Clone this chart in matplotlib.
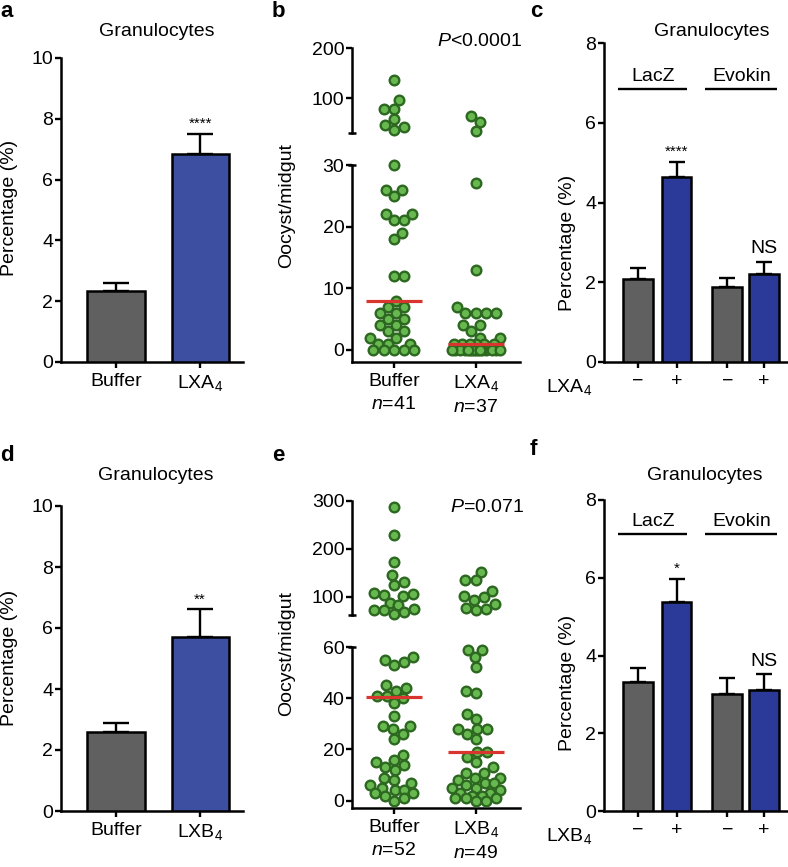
import numpy as np
import matplotlib
matplotlib.use("Agg")
import matplotlib.pyplot as plt

plt.rcParams['font.family'] = ['Liberation Sans', 'DejaVu Sans']
plt.rcParams['mathtext.fontset'] = 'custom'
plt.rcParams['mathtext.rm'] = 'Liberation Sans'
plt.rcParams['mathtext.it'] = 'Liberation Sans:italic'
plt.rcParams['axes.linewidth'] = 1.8

# ---- data ----
# panel a / d : granulocyte percentage
a_labels = ['Buffer', 'LXA$_4$']
a_means = [2.35, 6.85]
a_errs = [0.25, 0.65]
d_labels = ['Buffer', 'LXB$_4$']
d_means = [2.58, 5.7]
d_errs = [0.32, 0.92]

# panel c / f : LacZ vs Evokin, -/+ lipoxin
cf_ticklabels = ['\u2212', '+', '\u2212', '+']
c_means = [2.08, 4.65, 1.88, 2.22]
c_errs = [0.28, 0.37, 0.22, 0.30]
f_means = [3.32, 5.38, 3.02, 3.12]
f_errs = [0.35, 0.60, 0.40, 0.40]

# panel b : oocysts per midgut
b_buffer = [137, 97, 79, 79, 58, 46, 43, 37,
            30, 26, 26, 25, 22, 22, 21, 21, 19, 18, 12, 12, 8,
            7, 7, 6, 6, 5, 5, 4, 4, 3, 3, 2, 2, 1, 1, 1, 0, 0, 0, 0, 0]
b_lxa4 = [65, 53, 34,
          27, 13, 7, 6, 6, 6, 6, 4, 4, 3, 2, 2, 1, 1, 1, 1, 1, 1,
          0, 0, 0, 0, 0, 0, 0, 0, 0, 0, 0, 0, 0, 0, 0, 0]
b_labels = ['Buffer\n$n$=41', 'LXA$_4$\n$n$=37']

# panel e
e_buffer = [287, 228, 173, 145, 131, 124, 108, 106, 103, 101, 86, 82, 75, 73, 72, 69, 65,
            56, 55, 54, 53, 45, 44, 43, 41, 41, 40, 38, 33, 29, 29, 28, 26, 24,
            18, 16, 15, 14, 13, 12, 9, 8, 7, 6, 5, 4, 4, 3, 3, 2, 1, 0]
e_lxb4 = [152, 134, 134, 113, 101, 100, 94, 85, 77, 75, 73,
          59, 59, 56, 52, 43, 42, 34, 32, 28, 28, 28, 26, 24, 19, 19,
          17, 15, 13, 11, 11, 9, 9, 8, 7, 7, 6, 5, 5, 4, 3, 3, 2, 2, 1, 1, 1, 0, 0]
e_labels = ['Buffer\n$n$=52', 'LXB$_4$\n$n$=49']

GREY = '#606060'
BLUE_A = '#3c4fa1'
BLUE_C = '#2b3a98'
PT_FACE = '#66b84f'
PT_EDGE = '#2d6821'
RED = '#d8352e'

W, H = 788, 867
fig = plt.figure(figsize=(W / 100, H / 100), dpi=100)


def add_ax(left, right, top, bottom):
    return fig.add_axes([left / W, 1 - bottom / H, (right - left) / W, (bottom - top) / H])


def ftext(x, y, s, **kw):
    fig.text(x / W, 1 - y / H, s, **kw)


def style_ax(ax):
    for s in ['top', 'right']:
        ax.spines[s].set_visible(False)
    ax.tick_params(axis='y', length=4, width=1.7, pad=1.5, labelsize=14)
    ax.tick_params(axis='x', length=4, width=1.7, pad=4, labelsize=14)


def bar_panel(ax, xpos, means, errs, colors, ylim, yticks, xlim, width, capsize):
    ax.errorbar(xpos, means, yerr=[np.zeros(len(errs)), errs], fmt='none',
                ecolor='black', elinewidth=1.7, capsize=capsize, capthick=1.7, zorder=2)
    ax.bar(xpos, means, width, color=colors, edgecolor='black', linewidth=1.8, zorder=3)
    ax.set_ylim(*ylim)
    ax.set_xlim(*xlim)
    ax.set_yticks(yticks)
    ax.set_xticks(xpos)
    style_ax(ax)


def swarm_offsets(vals, px_per_unit, sep=10.3, maxw=24.0):
    ys = np.asarray(vals, float) * px_per_unit
    order = np.argsort(ys, kind='stable')
    xs = np.zeros(len(ys))
    placed = []
    for i in order:
        y = ys[i]
        near = [(xj, yj) for xj, yj in placed if abs(yj - y) < sep]
        cands = [0.0]
        for xj, yj in near:
            dx = np.sqrt(sep ** 2 - (y - yj) ** 2)
            cands += [xj - dx, xj + dx]
        cands = [c for c in cands if abs(c) <= maxw]
        ok = [c for c in cands
              if all((c - xj) ** 2 + (y - yj) ** 2 >= sep ** 2 - 1e-6 for xj, yj in near)]
        sgn = 1.0 if sum(p[0] for p in placed) <= 0 else -1.0
        if ok:
            x = min(ok, key=lambda c: (round(abs(c), 3), -c * sgn))
        else:
            grid = np.linspace(-maxw, maxw, 25)
            x = max(grid, key=lambda c: (min((c - xj) ** 2 + (y - yj) ** 2 for xj, yj in near),
                                         -abs(c)))
        xs[i] = x
        placed.append((x, y))
    return xs


def scatter_panel(ax_top, ax_low, groups, labels, cut, top_lim, low_lim, top_ticks, low_ticks,
                  top_px, low_px, x_px_unit):
    for k, vals in enumerate(groups):
        vals = np.asarray(vals, float)
        hi = vals[vals >= cut]
        lo = vals[vals < cut]
        for ax, v, lim, hpx in [(ax_top, hi, top_lim, top_px), (ax_low, lo, low_lim, low_px)]:
            ppu = hpx / (lim[1] - lim[0])
            offs = swarm_offsets(v, ppu) / x_px_unit
            ax.scatter(k + offs, v, s=48, color=PT_FACE, edgecolor=PT_EDGE,
                       linewidth=1.7, zorder=3, clip_on=False)
        med = np.median(vals)
        target = ax_low if med < cut else ax_top
        target.hlines(med, k - 0.34, k + 0.34, color=RED, lw=2.3, zorder=4)

    for ax in (ax_top, ax_low):
        ax.set_xlim(-0.51, 1.54)
        style_ax(ax)
    ax_top.set_ylim(*top_lim)
    ax_top.set_yticks(top_ticks)
    ax_top.spines['bottom'].set_visible(False)
    ax_top.set_xticks([])
    ax_top.plot([0], [0], marker='_', ms=6, mew=1.8, color='black',
                transform=ax_top.transAxes, clip_on=False)
    ax_low.set_ylim(*low_lim)
    ax_low.set_yticks(low_ticks)
    ax_low.set_xticks([0, 1])
    ax_low.set_xticklabels(labels, linespacing=1.45)
    ax_low.plot([0], [1], marker='_', ms=6, mew=1.8, color='black',
                transform=ax_low.transAxes, clip_on=False)


# ---- panel a ----
ax_a = add_ax(61, 243, 58, 362)
bar_panel(ax_a, [0, 1], a_means, a_errs, [GREY, BLUE_A], (0, 10), range(0, 11, 2),
          (-0.655, 1.51), 0.68, 9.5)
ax_a.set_xticklabels(a_labels)
ax_a.annotate('****', (1, a_means[1] + a_errs[1]), xytext=(0, 2), textcoords='offset points',
              ha='center', va='bottom', fontsize=11)

# ---- panel d ----
ax_d = add_ax(61, 243, 506, 811)
bar_panel(ax_d, [0, 1], d_means, d_errs, [GREY, BLUE_A], (0, 10), range(0, 11, 2),
          (-0.655, 1.51), 0.68, 9.5)
ax_d.set_xticklabels(d_labels)
ax_d.annotate('**', (1, d_means[1] + d_errs[1]), xytext=(0, 2), textcoords='offset points',
              ha='center', va='bottom', fontsize=11)

# ---- panels c / f ----
cf_x = [0, 1, 2.31, 3.26]
for ax_box, means, errs, lab, lab_y, stars, group_y in [
        ((604, 787, 43.3, 362), c_means, c_errs, 'LXA$_4$', 387, '****', 6.85),
        ((604, 787, 500, 811), f_means, f_errs, 'LXB$_4$', 836, '*', 7.12)]:
    ax = add_ax(*ax_box)
    bar_panel(ax, cf_x, means, errs, [GREY, BLUE_C, GREY, BLUE_C], (0, 8), range(0, 9, 2),
              (-0.87, 3.85), 0.77, 5.5)
    ax.set_xticklabels(cf_ticklabels)
    ax.annotate(stars, (cf_x[1], means[1] + errs[1]), xytext=(0, 2), textcoords='offset points',
                ha='center', va='bottom', fontsize=11)
    ax.annotate('NS', (cf_x[3], means[3] + errs[3]), xytext=(0, 3), textcoords='offset points',
                ha='center', va='bottom', fontsize=14)
    for (x0, x1), name in [((-0.5, 1.28), 'LacZ'), ((1.74, 3.6), 'Evokin')]:
        ax.hlines(group_y, x0, x1, color='black', lw=1.7, clip_on=False)
        ax.annotate(name, ((x0 + x1) / 2, group_y), xytext=(0, 3), textcoords='offset points',
                    ha='center', va='bottom', fontsize=14)
    ftext(592, lab_y, lab, ha='right', va='center', fontsize=14)

# ---- panel b ----
ax_bt = add_ax(352, 520, 48, 133)
ax_bl = add_ax(352, 520, 165, 362)
scatter_panel(ax_bt, ax_bl, [b_buffer, b_lxa4], b_labels, 31.5, (30, 200), (-1.95, 30),
              [100, 200], [0, 10, 20, 30], 85, 197, 82)
ftext(522, 42, '$P$<0.0001', ha='right', va='center', fontsize=14)

# ---- panel e ----
ax_et = add_ax(352, 520, 500.7, 615)
ax_el = add_ax(352, 520, 647, 808)
scatter_panel(ax_et, ax_el, [e_buffer, e_lxb4], e_labels, 62, (62, 300), (-2.85, 60),
              [100, 200, 300], [0, 20, 40, 60], 114.3, 161, 82)
ftext(524, 507, '$P$=0.071', ha='right', va='center', fontsize=14)

# ---- titles, axis labels, panel letters ----
for x, y in [(157, 32), (712, 32), (156, 475), (705, 475)]:
    ftext(x, y, 'Granulocytes', ha='center', va='center', fontsize=14)
for x, y in [(10, 208), (10, 658), (567, 243), (567, 683)]:
    ftext(x, y, 'Percentage (%)', ha='center', va='center', rotation=90, fontsize=14)
for x, y in [(287, 205), (287, 654)]:
    ftext(x, y, 'Oocyst/midgut', ha='center', va='center', rotation=90, fontsize=14)
for x, y, s in [(0, 1, 'a'), (272, 1, 'b'), (530, 1, 'c'),
                (0, 445, 'd'), (272, 445, 'e'), (530, 439, 'f')]:
    ftext(x, y, s, ha='left', va='top', fontsize=16, fontweight='bold')

fig.savefig('out.png', dpi=100)
